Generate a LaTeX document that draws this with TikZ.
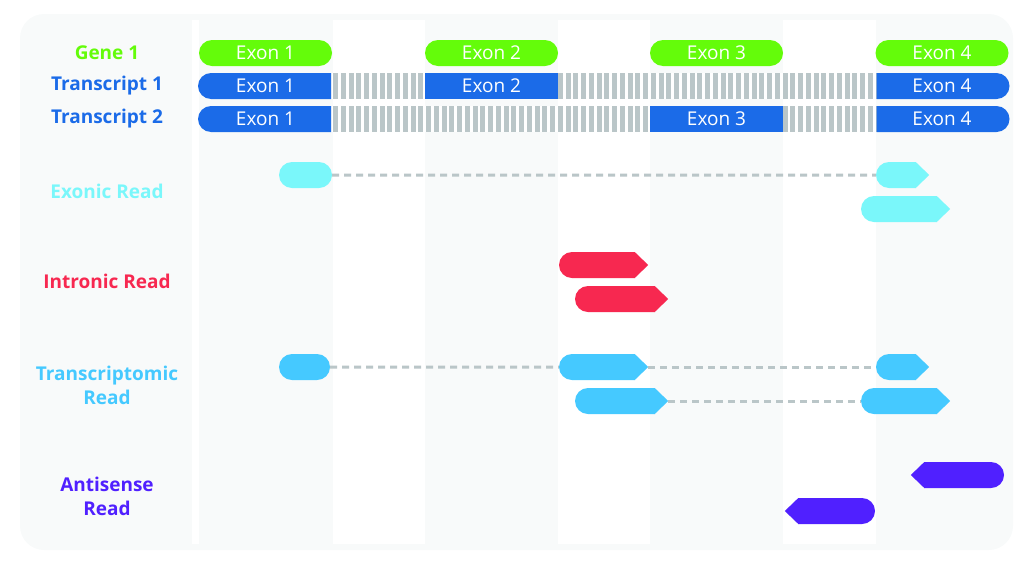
\documentclass[tikz,border=0pt]{standalone}
\usepackage{fontspec}
\setmainfont{Open Sans}
\usepackage{tikz}
\usetikzlibrary{shapes.misc}
\definecolor{bggray}{RGB}{248,250,250}
\definecolor{genegreen}{RGB}{100,252,10}
\definecolor{txblue}{RGB}{27,107,232}
\definecolor{intgray}{RGB}{186,198,200}
\definecolor{exonic}{RGB}{122,247,250}
\definecolor{intronic}{RGB}{247,40,80}
\definecolor{txome}{RGB}{69,201,255}
\definecolor{antisense}{RGB}{80,32,255}
\tikzstyle{rowlabel} = [font=\fontsize{19}{24}\selectfont\bfseries, align=center, inner sep=0pt]
\tikzstyle{exon} = [minimum width=133pt, minimum height=26pt, inner sep=0pt, text=white, font=\fontsize{19}{22}\selectfont]
\tikzstyle{geneexon} = [exon, rounded rectangle, fill=genegreen]
\tikzstyle{txexon} = [exon, rectangle, fill=txblue]
\tikzstyle{read} = [rounded rectangle, minimum height=26pt, inner sep=0pt]
\tikzstyle{fwdread} = [read, rounded rectangle right arc=none]
\tikzstyle{revread} = [read, rounded rectangle left arc=none]
\tikzstyle{splice} = [line width=3pt, intgray, dash pattern=on 7pt off 5pt]
\newcommand{\tipright}[2]{\fill[#2] (#1.east) ++(-0.5,-13) -- ++(13.5,13) coordinate (#1-tip) -- ++(-13.5,13) -- cycle;}
\newcommand{\tipleft}[2]{\fill[#2] (#1.west) ++(0.5,-13) -- ++(-13.5,13) coordinate (#1-tip) -- ++(13.5,13) -- cycle;}

\begin{document}
\begin{tikzpicture}[x=1pt, y=-1pt]
    \useasboundingbox (0,0) rectangle (1033,571);

    % Background and exon columns
    \fill[bggray, rounded corners=24pt] (20,14) rectangle (1013,550);
    \foreach \a/\b in {192/199, 333/425, 558/650, 783/876}
        \fill[white] (\a,20) rectangle (\b,544);

    % Introns
    \fill[white] (332,73) rectangle (876,99);
    \fill[white] (332,106) rectangle (876,132);
    \foreach \x in {333,340.75,...,876} {
        \fill[intgray] (\x,73) rectangle +(5,26);
        \fill[intgray] (\x,106) rectangle +(5,26);
    }

    % Row labels
    \node[rowlabel, genegreen] (lgene) at (107,53) {Gene 1};
    \node[rowlabel, txblue] (ltx1) at (107,86) {Transcript 1};
    \node[rowlabel, txblue] (ltx2) at (107,119) {Transcript 2};
    \node[rowlabel, exonic] (lexonic) at (107,191) {Exonic Read};
    \node[rowlabel, intronic] (lintronic) at (107,281) {Intronic Read};
    \node[rowlabel, txome] (ltxome) at (107,385) {Transcriptomic\\Read};
    \node[rowlabel, antisense] (lanti) at (107,496) {Antisense\\Read};

    % Gene
    \node[geneexon] (g1) at (265.5,53) {Exon 1};
    \node[geneexon] (g2) at (491.5,53) {Exon 2};
    \node[geneexon] (g3) at (716.5,53) {Exon 3};
    \node[geneexon] (g4) at (942,53) {Exon 4};

    % Transcript 1
    \node[txexon, rounded rectangle, rounded rectangle right arc=none] (t1e1) at (265.5,86) {Exon 1};
    \node[txexon] (t1e2) at (491.5,86) {Exon 2};
    \node[txexon, rounded rectangle, rounded rectangle left arc=none] (t1e4) at (942,86) {Exon 4};

    % Transcript 2
    \node[txexon, rounded rectangle, rounded rectangle right arc=none] (t2e1) at (265.5,119) {Exon 1};
    \node[txexon] (t2e3) at (716.5,119) {Exon 3};
    \node[txexon, rounded rectangle, rounded rectangle left arc=none] (t2e4) at (942,119) {Exon 4};

    % Exonic reads
    \node[read, fill=exonic, minimum width=53pt] (ex1) at (305.5,175) {};
    \node[fwdread, fill=exonic, minimum width=40pt] (ex1b) at (896,175) {};
    \tipright{ex1b}{exonic}
    \node[fwdread, fill=exonic, minimum width=76pt] (ex2) at (899,209) {};
    \tipright{ex2}{exonic}
    \draw[splice] (ex1) -- (ex1b);

    % Intronic reads
    \node[fwdread, fill=intronic, minimum width=76pt] (in1) at (597,265) {};
    \tipright{in1}{intronic}
    \node[fwdread, fill=intronic, minimum width=80pt] (in2) at (615,299) {};
    \tipright{in2}{intronic}

    % Transcriptomic reads
    \node[read, fill=txome, minimum width=51pt] (tr1) at (304.5,367) {};
    \node[fwdread, fill=txome, minimum width=76pt] (tr1b) at (597,367) {};
    \tipright{tr1b}{txome}
    \node[fwdread, fill=txome, minimum width=40pt] (tr1c) at (896,367) {};
    \tipright{tr1c}{txome}
    \draw[splice] (tr1) -- (tr1b);
    \draw[splice] (tr1b-tip) -- (tr1c);

    \node[fwdread, fill=txome, minimum width=80pt] (tr2) at (615,401) {};
    \tipright{tr2}{txome}
    \node[fwdread, fill=txome, minimum width=76pt] (tr2b) at (899,401) {};
    \tipright{tr2b}{txome}
    \draw[splice] (tr2-tip) -- (tr2b);

    % Antisense reads
    \node[revread, fill=antisense, minimum width=80pt] (as1) at (964,475) {};
    \tipleft{as1}{antisense}
    \node[revread, fill=antisense, minimum width=77pt] (as2) at (836.5,511) {};
    \tipleft{as2}{antisense}
\end{tikzpicture}
\end{document}
